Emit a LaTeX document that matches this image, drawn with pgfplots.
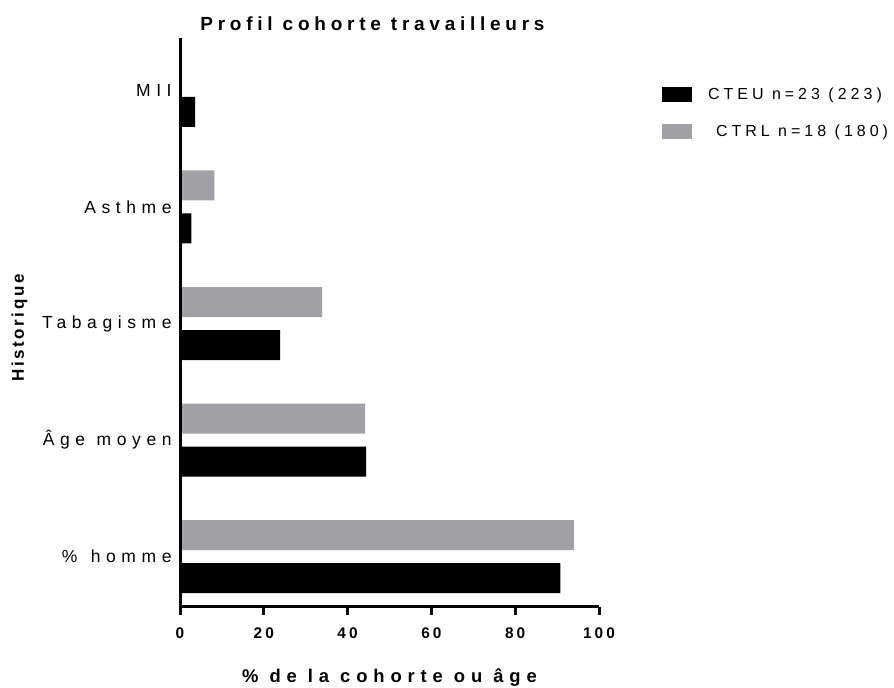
\documentclass[border=0pt]{standalone}
\usepackage{fontspec}
\setmainfont{Liberation Sans}
\newfontfamily\catfont[LetterSpace=32]{Liberation Sans}
\newfontfamily\legfont[LetterSpace=25]{Liberation Sans}
\newfontfamily\tickfont[LetterSpace=20]{Liberation Sans}
\newfontfamily\ylabfont[LetterSpace=15]{Liberation Sans}
\usepackage{pgfplots}
\pgfplotsset{compat=1.18}
\definecolor{ctrlgray}{RGB}{161,160,165}

% values: bottom to top = % homme, Age moyen, Tabagisme, Asthme, MII
\begin{document}
\begin{tikzpicture}[x=1pt,y=1pt]
\useasboundingbox (0,0) rectangle (447,343.5);
\begin{axis}[
  at={(90pt,40.15pt)}, anchor=south west,
  scale only axis, width=209.5pt, height=284.35pt,
  xbar,
  bar width=0.2575,
  axis lines*=left,
  axis on top=true,
  axis line style={line width=1.5pt},
  xmin=0, xmax=100,
  ymin=-0.43, ymax=4.45,
  xtick={0,20,40,60,80,100},
  xticklabels={0,20,40,60,80,100},
  xtick align=outside,
  major tick length=4pt,
  xtick style={black,line width=1.5pt},
  xticklabel style={font=\tickfont\bfseries\fontsize{7.7}{9}\selectfont, inner sep=0pt, anchor=north, yshift=-6.5pt},
  ytick={0,1,2,3,4},
  yticklabels={\%\hspace{1.5pt} homme,Âge\hspace{0.5pt} moyen,Tabagisme,Asthme,MII},
  ytick style={draw=none},
  ytick align=inside,
  yticklabel style={font=\catfont\fontsize{8.75}{10}\selectfont, inner sep=0pt, anchor=east, xshift=-4pt},
  title={Profil cohorte travailleurs},
  title style={font=\legfont\bfseries\fontsize{9.5}{11}\selectfont, at={(axis description cs:0.4594,0.9925)}, anchor=base, yshift=0pt, inner sep=0pt},
  xlabel={\% de la cohorte ou âge},
  xlabel style={font=\catfont\bfseries\fontsize{9.2}{11}\selectfont, at={(axis description cs:0.5,-0.1338)}, anchor=base, inner sep=0pt},
  ylabel={Historique},
  ylabel style={font=\ylabfont\bfseries\fontsize{8.5}{10}\selectfont, at={(axis description cs:-0.3725,0.49)}, anchor=base, inner sep=0pt},
  legend image code/.code={\fill[#1] (0pt,-3.75pt) rectangle (15pt,3.75pt);},
  legend style={at={(axis description cs:1.1504,0.9133)}, anchor=north west, draw=none, fill=none,
    inner sep=0pt, outer sep=0pt, row sep=11pt, font=\legfont\fontsize{8}{9}\selectfont,
    nodes={inner sep=0pt, outer sep=0pt}, cells={anchor=west},
    /tikz/every odd column/.append style={column sep=8pt}},
  legend cell align=left,
]
\addplot[fill=black, draw=none, bar shift=-0.1845] coordinates {
  (90.8,0) (44.4,1) (23.9,2) (2.7,3) (3.6,4)
};
\addlegendentry{CTEU n=23 (223)}
\addplot[fill=ctrlgray, draw=none, bar shift=0.1845] coordinates {
  (94.0,0) (44.2,1) (33.9,2) (8.2,3) (0,4)
};
\addlegendentry{\hspace{4pt}CTRL n=18 (180)}
\end{axis}
\end{tikzpicture}
\end{document}
